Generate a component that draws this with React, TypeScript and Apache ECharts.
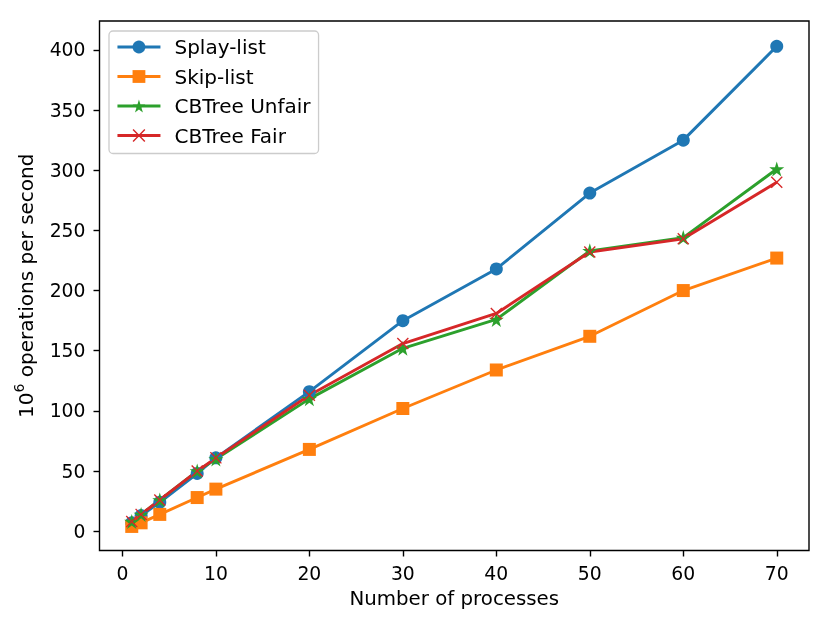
import React, { useEffect, useRef } from "react";
import * as echarts from "echarts";

const processes = [1, 2, 4, 8, 10, 20, 30, 40, 50, 60, 70];
const splayList = [7, 13, 24, 48, 61, 116, 175, 218, 281, 325, 403];
const skipList = [4, 7, 14, 28, 35, 68, 102, 134, 162, 200, 227];
const cbtreeUnfair = [8, 14, 26, 50, 60, 110, 152, 176, 233, 244, 301];
const cbtreeFair = [8, 14, 26, 50, 61, 113, 156, 181, 232, 243, 290];
const xTicks = [0, 10, 20, 30, 40, 50, 60, 70];
const yTicks = [0, 50, 100, 150, 200, 250, 300, 350, 400];

const STAR =
  "path://M0,-1 L0.2245,-0.309 L0.9511,-0.309 L0.3633,0.118 L0.5878,0.809 L0,0.382 L-0.5878,0.809 L-0.3633,0.118 L-0.9511,-0.309 L-0.2245,-0.309 Z";
const CROSS =
  "path://M-1,-0.84 L-0.84,-1 L0,-0.16 L0.84,-1 L1,-0.84 L0.16,0 L1,0.84 L0.84,1 L0,0.16 L-0.84,1 L-1,0.84 L-0.16,0 Z";

const FONT = "DejaVu Sans";

export default function App() {
  const ref = useRef<HTMLDivElement>(null);
  useEffect(() => {
    const chart = echarts.init(ref.current!, null, { renderer: "svg" });
    const mk = (name: string, data: number[], color: string, symbol: string, size: number) => ({
      name,
      type: "line",
      data: processes.map((x, i) => [x, data[i]]),
      symbol,
      symbolSize: size,
      showSymbol: true,
      lineStyle: { color, width: 2.9 },
      itemStyle: { color, borderWidth: 0 },
      emphasis: { disabled: true },
    });
    const tickStyle = { color: "#000", width: 1.4 };
    chart.setOption({
      animation: false,
      grid: {
        left: 99.5,
        right: 22,
        top: 21,
        bottom: 74.5,
        show: true,
        borderColor: "#000",
        borderWidth: 1.4,
        backgroundColor: "transparent",
        outerBoundsMode: "none",
      },
      legend: {
        orient: "vertical",
        left: 109,
        top: 31,
        padding: [6, 8, 8, 7],
        backgroundColor: "rgba(255,255,255,0.8)",
        borderColor: "#cccccc",
        borderWidth: 1.3,
        borderRadius: 4,
        itemWidth: 43,
        itemHeight: 16,
        itemGap: 9.5,
        lineStyle: { width: 2.9 },
        textStyle: { fontFamily: FONT, fontSize: 20, color: "#000", lineHeight: 20, padding: [0, 0, 0, 9] },
        data: ["Splay-list", "Skip-list", "CBTree Unfair", "CBTree Fair"],
      },
      xAxis: {
        type: "value",
        min: -2.45,
        max: 73.45,
        splitLine: { show: false },
        axisLine: { show: false, onZero: false },
        axisTick: { show: true, length: 6, lineStyle: tickStyle, customValues: xTicks },
        axisLabel: { fontFamily: FONT, fontSize: 18.8, color: "#000", margin: 13, customValues: xTicks },
        name: "Number of processes",
        nameLocation: "middle",
        nameGap: 38,
        nameTextStyle: { fontFamily: FONT, fontSize: 19.8, color: "#000" },
      },
      yAxis: {
        type: "value",
        min: -16,
        max: 424,
        splitLine: { show: false },
        axisLine: { show: false, onZero: false },
        axisTick: { show: true, length: 6, lineStyle: tickStyle, customValues: yTicks },
        axisLabel: { fontFamily: FONT, fontSize: 18.8, color: "#000", margin: 14, customValues: yTicks },
        name: "{a|10}{b|6}{a| operations per second}",
        nameLocation: "middle",
        nameGap: 64,
        nameTextStyle: {
          fontFamily: FONT,
          color: "#000",
          rich: {
            a: { fontFamily: FONT, fontSize: 20, color: "#000", lineHeight: 26, verticalAlign: "bottom" },
            b: { fontFamily: FONT, fontSize: 14, color: "#000", lineHeight: 26, verticalAlign: "top", padding: [2, 0, 0, 0] },
          },
        },
      },
      series: [
        mk("Splay-list", splayList, "#1f77b4", "circle", 13),
        mk("Skip-list", skipList, "#ff7f0e", "rect", 13),
        mk("CBTree Unfair", cbtreeUnfair, "#2ca02c", STAR, 15),
        mk("CBTree Fair", cbtreeFair, "#d62728", CROSS, 12),
      ],
    });
    return () => chart.dispose();
  }, []);
  return (
    <div
      ref={ref}
      style={{ position: "fixed", left: 0, top: 0, width: 831, height: 625 }}
    />
  );
}
